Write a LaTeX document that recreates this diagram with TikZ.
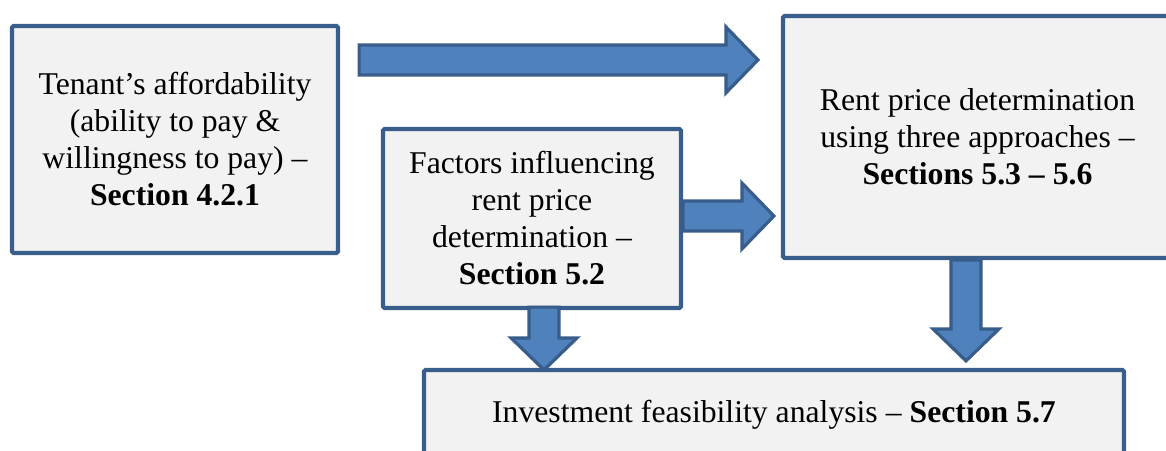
\documentclass[tikz,border=0pt]{standalone}
\usepackage{fontspec}
\setmainfont{Liberation Serif}
\usetikzlibrary{calc}
\definecolor{boxline}{HTML}{3A5E8C}
\definecolor{boxfill}{HTML}{F2F2F2}
\definecolor{arrowfill}{HTML}{4F81BD}
\definecolor{arrowline}{HTML}{385D8A}
\tikzset{
  stagebox/.style={draw=boxline, line width=4.2pt, fill=boxfill, rounded corners=1.5pt,
    inner sep=0pt, align=center, font=\fontsize{31.7}{37}\selectfont},
  barrow/.style={draw=arrowline, fill=arrowfill, line width=3.2pt, line join=miter}
}
% block arrow pointing right: #1 tail, #2 tip
\newcommand\blockright[2]{%
  \draw[barrow] let \p1=(#1), \p2=(#2) in
    (\x1,\y1+15pt) -- (\x2-32pt,\y1+15pt) -- (\x2-32pt,\y1+33pt) -- (\x2,\y1)
    -- (\x2-32pt,\y1-33pt) -- (\x2-32pt,\y1-15pt) -- (\x1,\y1-15pt) -- cycle;}
% block arrow pointing down: #1 tail, #2 tip
\newcommand\blockdown[2]{%
  \draw[barrow] let \p1=(#1), \p2=(#2) in
    (\x1-15pt,\y1) -- (\x1-15pt,\y2+32pt) -- (\x1-33pt,\y2+32pt) -- (\x1,\y2)
    -- (\x1+33pt,\y2+32pt) -- (\x1+15pt,\y2+32pt) -- (\x1+15pt,\y1) -- cycle;}
\begin{document}
\begin{tikzpicture}[x=1pt,y=-1pt]
  \useasboundingbox (0,0) rectangle (1166,450);
  \clip (0,0) rectangle (1166,450);

  \node[stagebox, minimum width=326pt, minimum height=227pt] (aff) at (175,139.5)
    {Tenant’s affordability\\(ability to pay \&\\willingness to pay) –\\\textbf{Section 4.2.1}};
  \node[stagebox, minimum width=298pt, minimum height=179pt] (fac) at (532,218.5)
    {Factors influencing\\rent price\\determination –\\\textbf{Section 5.2}};
  \node[stagebox, minimum width=389pt, minimum height=242pt] (rent) at (977.5,137)
    {Rent price determination\\using three approaches –\\\textbf{Sections 5.3 – 5.6}};
  \node[stagebox, minimum width=700pt, minimum height=90pt] (inv) at (774,415)
    {Investment feasibility analysis – \textbf{Section 5.7}};

  % arrow ends
  \coordinate (t1) at ([xshift=19pt,yshift=-36pt]aff.north east);
  \coordinate (h1) at ([xshift=-23pt]rent.west |- t1);
  \coordinate (t2) at ([yshift=2.5pt]fac.east);
  \coordinate (h2) at ([xshift=-7pt]rent.west |- t2);
  \coordinate (t3) at ([xshift=12pt,yshift=3pt]fac.south);
  \coordinate (h3) at ([yshift=-2pt]t3 |- inv.north);
  \coordinate (t4) at ([xshift=-11.5pt]rent.south);
  \coordinate (h4) at ([yshift=7pt]t4 |- inv.north);

  \blockright{t1}{h1}
  \blockright{t2}{h2}
  \blockdown{t3}{h3}
  \blockdown{t4}{h4}
\end{tikzpicture}
\end{document}
